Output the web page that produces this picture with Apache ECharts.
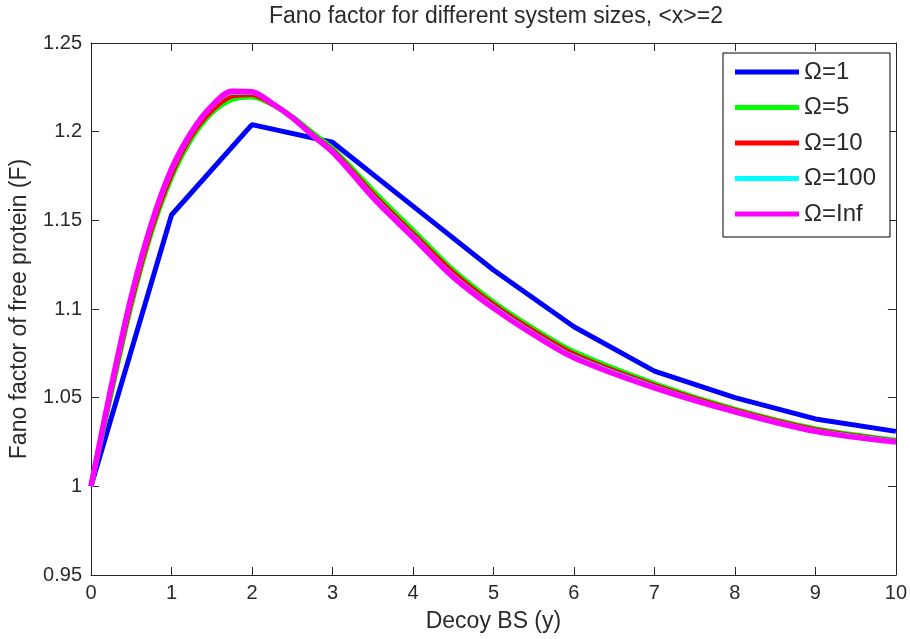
<!DOCTYPE html>
<html>
<head>
<meta charset="utf-8">
<script src="https://cdn.jsdelivr.net/npm/echarts@6/dist/echarts.min.js"></script>
<style>
  html, body { margin: 0; padding: 0; background: #fff; }
  #chart { width: 910px; height: 639px; }
</style>
</head>
<body>
<div id="chart"></div>
<script>
// Decoy binding sites (y) sampled for the finite-size curves
const xFine = [0, 0.25, 0.5, 0.75, 1, 1.25, 1.5, 1.75, 2, 2.25, 2.5, 2.75, 3, 3.25, 3.5, 3.75, 4, 4.5, 5, 5.5, 6, 7, 8, 9, 10];
// Omega = 1 is only evaluated at integer y
const xCoarse = [0, 1, 2, 3, 4, 5, 6, 7, 8, 9, 10];

const fanoOmega1   = [1.000, 1.153, 1.204, 1.194, 1.158, 1.122, 1.090, 1.065, 1.050, 1.038, 1.031];
const fanoOmega5   = [1.000, 1.052, 1.102, 1.143, 1.174, 1.196, 1.2105, 1.218, 1.2195, 1.2155, 1.2085, 1.1995, 1.1905, 1.179, 1.167, 1.1555, 1.1445, 1.122, 1.104, 1.089, 1.076, 1.058, 1.0435, 1.0325, 1.026];
const fanoOmega10  = [1.000, 1.054, 1.104, 1.145, 1.176, 1.198, 1.212, 1.220, 1.221, 1.2155, 1.208, 1.1985, 1.1895, 1.1775, 1.165, 1.1535, 1.1425, 1.1205, 1.1025, 1.0875, 1.0745, 1.057, 1.043, 1.032, 1.0255];
const fanoOmega100 = [1.000, 1.0555, 1.1065, 1.1475, 1.1785, 1.1998, 1.2143, 1.2222, 1.2222, 1.216, 1.208, 1.198, 1.1888, 1.1763, 1.1635, 1.152, 1.141, 1.1185, 1.101, 1.086, 1.073, 1.056, 1.0422, 1.0312, 1.0253];
const fanoOmegaInf = [1.000, 1.056, 1.107, 1.148, 1.179, 1.200, 1.2145, 1.2228, 1.2225, 1.216, 1.208, 1.198, 1.1885, 1.176, 1.163, 1.1515, 1.1405, 1.118, 1.1005, 1.0855, 1.0725, 1.0555, 1.042, 1.031, 1.025];

const seriesNames = ['\u03A9=1', '\u03A9=5', '\u03A9=10', '\u03A9=100', '\u03A9=Inf'];
const seriesColors = ['#0000FF', '#00FF00', '#FF0000', '#00FFFF', '#FF00FF'];

const xTickLabels = ['0', '1', '2', '3', '4', '5', '6', '7', '8', '9', '10'];
const yTickLabels = ['0.95', '1', '1.05', '1.1', '1.15', '1.2', '1.25'];

const FONT = '"Liberation Sans", Arial, Helvetica, sans-serif';
const TEXT = '#2a2a2a';
const AXIS = '#262626';

function pairs(xs, ys) {
  return xs.map((x, i) => [x, ys[i]]);
}

const seriesData = [
  pairs(xCoarse, fanoOmega1),
  pairs(xFine, fanoOmega5),
  pairs(xFine, fanoOmega10),
  pairs(xFine, fanoOmega100),
  pairs(xFine, fanoOmegaInf)
];

const chart = echarts.init(document.getElementById('chart'), null, { renderer: 'canvas' });

const baseX = {
  type: 'value', min: 0, max: 10, interval: 1,
  axisLine: { show: true, onZero: false, lineStyle: { color: AXIS, width: 1 } },
  axisTick: { show: true, inside: true, length: 8, lineStyle: { color: AXIS } },
  splitLine: { show: false }
};
const baseY = {
  type: 'value', min: 0.95, max: 1.25, interval: 0.05,
  axisLine: { show: true, onZero: false, lineStyle: { color: AXIS, width: 1 } },
  axisTick: { show: true, inside: true, length: 8, lineStyle: { color: AXIS } },
  splitLine: { show: false }
};

chart.setOption({
  backgroundColor: '#fff',
  animation: false,
  title: {
    text: 'Fano factor for different system sizes, <x>=2',
    left: 496, textAlign: 'center', top: 5, padding: 0,
    textStyle: { fontFamily: FONT, fontSize: 23, fontWeight: 'normal', color: TEXT, lineHeight: 23 }
  },
  grid: { left: 91, right: 9, top: 43, bottom: 63, containLabel: false },
  legend: {
    left: 723, top: 53,
    orient: 'vertical',
    icon: 'rect',
    itemWidth: 64, itemHeight: 5, itemGap: 11.5,
    padding: [7, 14, 11, 12],
    backgroundColor: '#fff', borderColor: '#000', borderWidth: 1, borderRadius: 0,
    textStyle: { fontFamily: FONT, fontSize: 24, color: TEXT, lineHeight: 24 },
    data: seriesNames
  },
  xAxis: [
    Object.assign({}, baseX, {
      position: 'bottom',
      name: 'Decoy BS (y)', nameLocation: 'middle', nameGap: 35,
      nameTextStyle: { fontFamily: FONT, fontSize: 23, color: TEXT, lineHeight: 24 },
      axisLabel: {
        margin: 8, fontFamily: FONT, fontSize: 20, color: TEXT,
        formatter: v => xTickLabels[Math.round(v)]
      }
    }),
    Object.assign({}, baseX, { position: 'top', axisLabel: { show: false } })
  ],
  yAxis: [
    Object.assign({}, baseY, {
      position: 'left',
      name: 'Fano factor of free protein (F)', nameLocation: 'middle', nameGap: 59,
      nameTextStyle: { fontFamily: FONT, fontSize: 23, color: TEXT, lineHeight: 24 },
      axisLabel: {
        margin: 9, fontFamily: FONT, fontSize: 20, color: TEXT,
        formatter: v => yTickLabels[Math.round((v - 0.95) / 0.05)]
      }
    }),
    Object.assign({}, baseY, { position: 'right', axisLabel: { show: false } })
  ],
  series: seriesNames.map((name, i) => ({
    name: name,
    type: 'line',
    xAxisIndex: 0, yAxisIndex: 0,
    data: seriesData[i],
    smooth: i === 0 ? false : 0.3,
    showSymbol: false, symbol: 'none',
    color: seriesColors[i],
    lineStyle: { color: seriesColors[i], width: i === 4 ? 5.5 : 5 },
    z: 2 + i
  }))
});
</script>
</body>
</html>
